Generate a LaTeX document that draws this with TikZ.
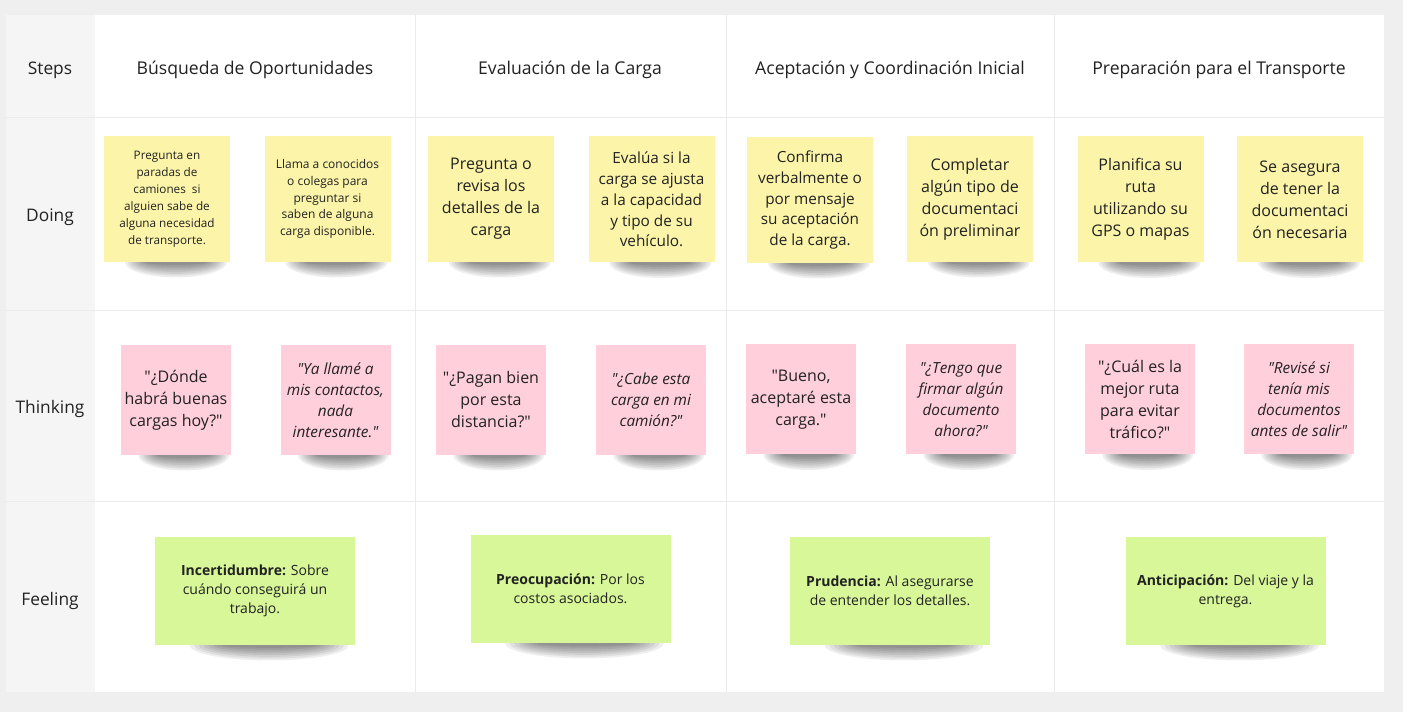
\documentclass[tikz,border=0pt]{standalone}
\usepackage{fontspec}
\setmainfont{Open Sans}[Ligatures=TeXOff]
\usetikzlibrary{positioning,backgrounds,calc}

\definecolor{pagegray}{HTML}{EFEFEF}
\definecolor{labelgray}{HTML}{F5F5F5}
\definecolor{gridline}{HTML}{EBEBEB}
\definecolor{inktext}{HTML}{222222}
\definecolor{noteyellow}{HTML}{FCF5A9}
\definecolor{notepink}{HTML}{FFCFDC}
\definecolor{notegreen}{HTML}{D7F799}

\begin{document}
\begin{tikzpicture}
  [x=0.75pt, y=-0.75pt,
  note/.style={rectangle, inner sep=0pt, align=center, text=inktext},
  yellownote/.style={note, fill=noteyellow, minimum width=94.5pt, minimum height=94.5pt,
    font=\fontsize{12}{16.5}\selectfont},
  pinknote/.style={note, fill=notepink, minimum width=82.5pt, minimum height=82.5pt,
    font=\fontsize{12}{16.5}\selectfont},
  greennote/.style={note, fill=notegreen, minimum width=150pt, minimum height=81pt,
    font=\fontsize{10.5}{14.3}\selectfont},
  rowlabel/.style={text=inktext, font=\fontsize{13}{15}\selectfont},
  steptitle/.style={text=inktext, font=\fontsize{13.2}{15}\selectfont}]

  \useasboundingbox (0,0) rectangle (1403,712);

  % board
  \begin{scope}[on background layer]
    \fill[pagegray] (0,0) rectangle (1403,712);
    \fill[white] (6,15) rectangle (1384,692);
    \fill[labelgray] (6,15) rectangle (95,692);
    \foreach \yy in {117,310,501}
      \draw[gridline, thin] (6,\yy) -- (1384,\yy);
    \foreach \xx in {415,726,1054}
      \draw[gridline, thin] (\xx,15) -- (\xx,692);
  \end{scope}

  % row labels
  \node[rowlabel] (steps)    at (50,70)  {Steps};
  \node[rowlabel] (doing)    at (50,217) {Doing};
  \node[rowlabel] (thinking) at (50,409) {Thinking};
  \node[rowlabel] (feeling)  at (50,601) {Feeling};

  % step titles
  \node[steptitle] (busqueda)   at (255,70)  {Búsqueda de Oportunidades};
  \node[steptitle] (evaluacion) at (570,70)  {Evaluación de la Carga};
  \node[steptitle] (aceptacion) at (890,70)  {Aceptación y Coordinación Inicial};
  \node[steptitle] (preparacion) at (1219,70) {Preparación para el Transporte};

  % doing
  \node[yellownote, font=\fontsize{8.8}{12.8}\selectfont] (d1) at (167,199)
    {Pregunta en\\paradas de\\camiones\ \ si\\alguien sabe de\\alguna necesidad\\de transporte.};
  \node[yellownote, font=\fontsize{9}{12.6}\selectfont] (d2) at (327.5,199)
    {Llama a conocidos\\o colegas para\\preguntar si\\saben de alguna\\carga disponible.};
  \node[yellownote] (d3) at (491,199)
    {Pregunta o\\revisa los\\detalles de la\\carga};
  \node[yellownote, font=\fontsize{11.5}{15.6}\selectfont] (d4) at (651.5,199.5)
    {Evalúa si la\\carga se ajusta\\a la capacidad\\y tipo de su\\vehículo.};
  \node[yellownote, font=\fontsize{11.5}{15.6}\selectfont] (d5) at (810,200)
    {Confirma\\verbalmente o\\por mensaje\\su aceptación\\de la carga.};
  \node[yellownote] (d6) at (970,199)
    {Completar\\algún tipo de\\documentaci\\ón preliminar};
  \node[yellownote] (d7) at (1140.5,199.5)
    {Planifica su\\ruta\\utilizando su\\GPS o mapas};
  \node[yellownote] (d8) at (1300,199.5)
    {Se asegura\\de tener la\\documentaci\\ón necesaria};

  % thinking
  \node[pinknote] (t1) at (176,400)
    {"¿Dónde\\habrá buenas\\cargas hoy?"};
  \node[pinknote, font=\fontsize{11.5}{15.8}\selectfont\itshape] (t2) at (335.5,400)
    {"Ya llamé a\\mis contactos,\\nada\\interesante."};
  \node[pinknote] (t3) at (491,400)
    {"¿Pagan bien\\por esta\\distancia?"};
  \node[pinknote, font=\fontsize{11.5}{15.8}\selectfont\itshape] (t4) at (651,400)
    {"¿Cabe esta\\carga en mi\\camión?"};
  \node[pinknote] (t5) at (801,399.5)
    {"Bueno,\\aceptaré esta\\carga."};
  \node[pinknote, font=\fontsize{11.5}{15.8}\selectfont\itshape] (t6) at (961,399.5)
    {"¿Tengo que\\firmar algún\\documento\\ahora?"};
  \node[pinknote] (t7) at (1140,399.5)
    {"¿Cuál es la\\mejor ruta\\para evitar\\tráfico?"};
  \node[pinknote, font=\fontsize{11.5}{15.8}\selectfont\itshape] (t8) at (1299,399.5)
    {"Revisé si\\tenía mis\\documentos\\antes de salir"};

  % feeling
  \node[greennote] (f1) at (255,591)
    {\textbf{Incertidumbre:} Sobre\\cuándo conseguirá un\\trabajo.};
  \node[greennote] (f2) at (570.5,589)
    {\textbf{Preocupación:} Por los\\costos asociados.};
  \node[greennote] (f3) at (890,591)
    {\textbf{Prudencia:} Al asegurarse\\de entender los detalles.};
  \node[greennote] (f4) at (1225.5,591)
    {\textbf{Anticipación:} Del viaje y la\\entrega.};

  % shadows under the notes
  \begin{scope}[on background layer]
    \foreach \n/\r in {d1/54,d2/54,d3/54,d4/54,d5/54,d6/54,d7/54,d8/54,
                       t1/48,t2/48,t3/48,t4/48,t5/48,t6/48,t7/48,t8/48,
                       f1/84,f2/84,f3/84,f4/84}
      \foreach \k in {1,...,8}
        \fill[black, opacity=0.065]
          ($(\n.south west)!0.57!(\n.south east)$)
          ellipse [x radius={\r*(1-0.055*\k)}, y radius={17-1.8*\k}];
  \end{scope}
\end{tikzpicture}
\end{document}
